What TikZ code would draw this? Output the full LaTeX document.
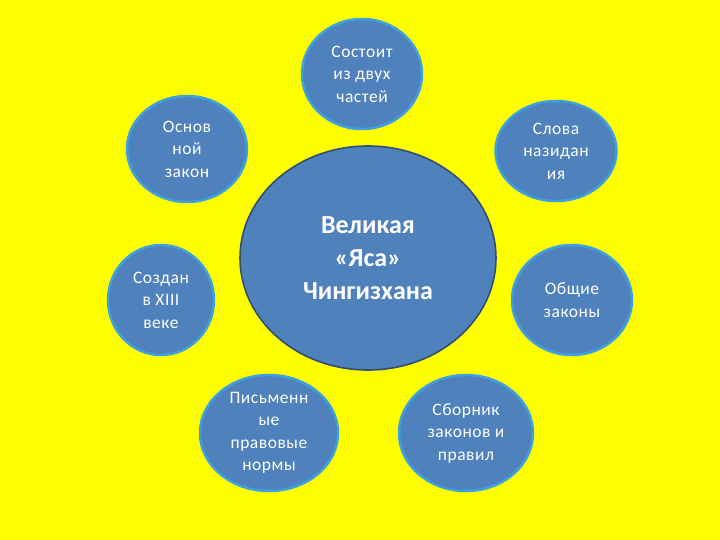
\documentclass[tikz,border=0pt]{standalone}
\usepackage{fontspec}
\setmainfont{Carlito}
\usetikzlibrary{shapes.geometric}
\definecolor{bgyellow}{RGB}{255,255,0}
\definecolor{blobfill}{RGB}{79,129,189}
\definecolor{blobedge}{RGB}{60,160,225}
\definecolor{hubedge}{RGB}{50,78,112}
\tikzset{
  sat/.style={ellipse, fill=blobfill, draw=blobedge, line width=2.5pt, inner sep=0pt,
    text=white, align=center, font=\fontsize{17.5}{22.5}\selectfont\addfontfeatures{LetterSpace=3}},
  hub/.style={ellipse, fill=blobfill, draw=hubedge, line width=1.6pt, inner sep=0pt,
    text=white, align=center, font=\bfseries\fontsize{26}{33}\selectfont}
}
\begin{document}
\begin{tikzpicture}[x=1pt,y=-1pt]
\fill[bgyellow] (0,0) rectangle (720,540);
\useasboundingbox (0,0) rectangle (720,540);
\node[hub, minimum width=256pt, minimum height=224pt] (hub) at (368,258) {Великая\\«Яса»\\Чингизхана};
\node[sat, minimum width=120pt, minimum height=110pt] (top) at (362,74) {Состоит\\из двух\\частей};
\node[sat, minimum width=120pt, minimum height=106pt] (ul) at (187,149) {Основ\\ной\\закон};
\node[sat, minimum width=121pt, minimum height=100pt] (ur) at (556,151) {Слова\\назидан\\ия};
\node[sat, minimum width=106pt, minimum height=110pt] (ml) at (161,300) {Создан\\в XIII\\веке};
\node[sat, minimum width=120pt, minimum height=110pt] (mr) at (572,300) {Общие\\законы};
\node[sat, minimum width=138pt, minimum height=116pt] (bl) at (269,433) {Письменн\\ые\\правовые\\нормы};
\node[sat, minimum width=134pt, minimum height=116pt] (br) at (466,433) {Сборник\\законов и\\правил};
\end{tikzpicture}
\end{document}
